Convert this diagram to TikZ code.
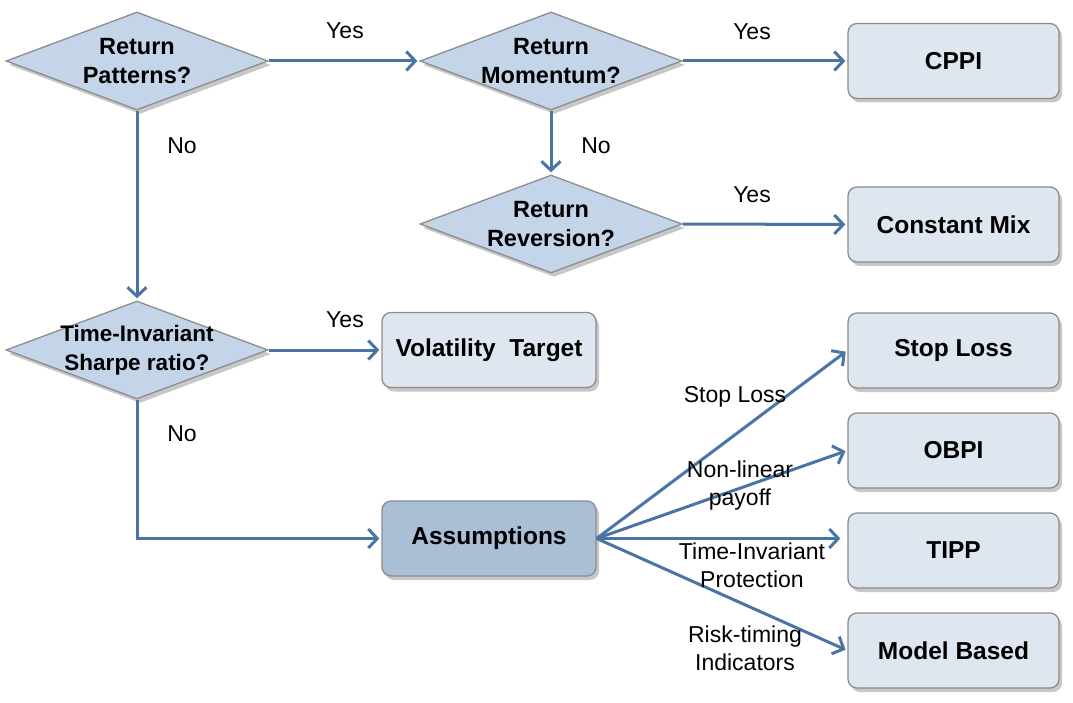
\documentclass[tikz,border=0pt]{standalone}
\usepackage{fontspec}
\setmainfont{Liberation Sans}
\usetikzlibrary{shapes.geometric,arrows.meta,shadows}
\definecolor{arr}{RGB}{74,116,164}
\definecolor{bordc}{RGB}{140,140,140}
\definecolor{diaf}{RGB}{196,213,234}
\definecolor{boxf}{RGB}{222,230,240}
\definecolor{asf}{RGB}{168,191,214}
\tikzset{
  shad/.style={drop shadow={shadow xshift=3pt,shadow yshift=-4pt,fill=black,opacity=0.22}},
  dia/.style={diamond,draw=bordc,line width=1.3pt,fill=diaf,minimum width=262pt,minimum height=98pt,inner sep=0pt,shad},
  dtext/.style={align=center,font=\fontsize{23.5}{29.5}\selectfont\bfseries},
  rbox/.style={rectangle,rounded corners=9pt,draw=bordc,line width=1.3pt,fill=boxf,minimum width=211pt,minimum height=75pt,font=\fontsize{24.5}{29}\selectfont\bfseries,shad},
  conn/.style={draw=arr,line width=3pt,-{Straight Barb[length=9pt,width=19pt,line width=3pt]},shorten >=2pt},
  lbl/.style={align=center,font=\fontsize{23}{28}\selectfont,inner sep=0pt}
}
\begin{document}
\begin{tikzpicture}[x=1pt,y=-1pt]
\useasboundingbox (0,0) rectangle (1073,703);
% diamonds
\node[dia] (d1) at (137,61) {};
\node[dtext] (d1t) at (d1) {Return\\Patterns?};
\node[dia] (d2) at (551,61) {};
\node[dtext] (d2t) at (d2) {Return\\Momentum?};
\node[dia] (d3) at (551,224) {};
\node[dtext] (d3t) at (d3) {Return\\Reversion?};
\node[dia] (d4) at (137,350) {};
\node[dtext,font=\fontsize{22.5}{29}\selectfont\bfseries] (d4t) at (d4) {Time-Invariant\\Sharpe ratio?};
% boxes
\node[rbox] (cppi) at (953.5,61) {CPPI};
\node[rbox] (cmix) at (953.5,224.5) {Constant Mix};
\node[rbox,minimum width=214pt] (vt) at (489,350) {Volatility\ \ Target};
\node[rbox,minimum width=214pt,fill=asf] (as) at (489,538.5) {Assumptions};
\node[rbox] (sl) at (953.5,350.5) {Stop Loss};
\node[rbox] (ob) at (953.5,450.5) {OBPI};
\node[rbox] (tp) at (953.5,550.5) {TIPP};
\node[rbox] (mb) at (953.5,650.5) {Model Based};
% connectors
\draw[conn] (d1.east) -- (d2.west);
\draw[conn] (d2.east) -- (cppi.west);
\draw[conn] (d1.south) -- (d4.north);
\draw[conn] (d2.south) -- (d3.north);
\draw[conn] (d3.east) -- (cmix.west);
\draw[conn] (d4.east) -- (vt.west);
\draw[conn] (d4.south) |- (as.west);
\draw[conn] (as.east) -- (sl.west);
\draw[conn] (as.east) -- (ob.west);
\draw[conn,shorten >=7pt] (as.east) -- (as.east -| tp.west);
\draw[conn] (as.east) -- (mb.west);
% labels
\node[lbl] (y1) at (345,31) {Yes};
\node[lbl] (y2) at (752,32) {Yes};
\node[lbl] (n1) at (182,146) {No};
\node[lbl] (n2) at (596,146) {No};
\node[lbl] (y3) at (752,195) {Yes};
\node[lbl] (y4) at (345,320) {Yes};
\node[lbl] (n4) at (182,434) {No};
\node[lbl] (l1) at (735,397) {Stop Loss};
\node[lbl] (l2) at (740,486) {Non-linear\\payoff};
\node[lbl] (l3) at (752,565) {Time-Invariant\\Protection};
\node[lbl] (l4) at (745,648) {Risk-timing\\Indicators};
\end{tikzpicture}
\end{document}
